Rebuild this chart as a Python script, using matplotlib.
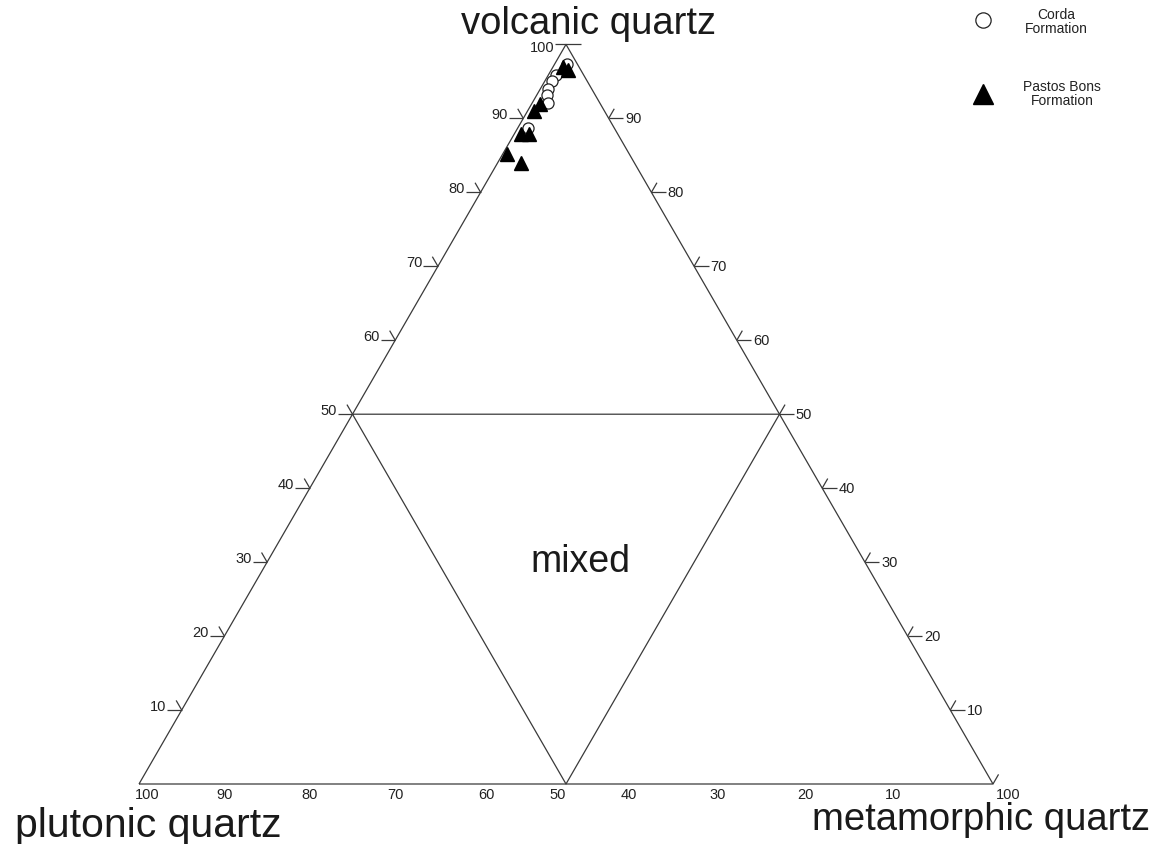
import numpy as np
import matplotlib
matplotlib.use("Agg")
import matplotlib.pyplot as plt

plt.rcParams["font.family"] = ["Liberation Sans", "DejaVu Sans"]

# sample compositions (%): plutonic, volcanic, metamorphic
corda_plutonic = [1.2, 3.2, 4.1, 5.1, 5.6, 6.1, 10.1]
corda_volcanic = [97.3, 95.9, 95.0, 94.0, 93.2, 92.1, 88.7]
corda_metamorphic = [1.5, 0.9, 0.9, 0.9, 1.2, 1.8, 1.2]

pastos_plutonic = [14.3, 13.3, 11.3, 10.4, 8.2, 7.0, 1.9, 1.5]
pastos_volcanic = [85.2, 84.0, 87.9, 87.9, 91.0, 92.0, 97.0, 96.5]
pastos_metamorphic = [0.5, 2.7, 0.8, 1.7, 0.8, 1.0, 1.1, 2.0]

side_ticks = [10, 20, 30, 40, 50, 60, 70, 80, 90]
bottom_tick_labels = ["100", "90", "80", "70", "60", "50", "40", "30", "20", "10", "100"]

H = np.sqrt(3) / 2
line_kw = dict(color="#3a3a3a", linewidth=0.9, solid_capstyle="butt")


def to_xy(plut, volc, meta):
    plut, volc, meta = map(np.asarray, (plut, volc, meta))
    total = plut + volc + meta
    v = volc / total
    m = meta / total
    return m + v / 2, v * H


fig = plt.figure(figsize=(11.58, 8.45), dpi=100)
ax = fig.add_axes([0, 0, 1, 1])
ax.set_xlim(-139 / 854, (1158 - 139) / 854)
ax.set_ylim(-60 / 854, 785 / 854)
ax.axis("off")

# outer triangle
ax.plot([0, 1, 0.5, 0], [0, 0, H, 0], **line_kw)

# inner "mixed" triangle
ax.plot([0.25, 0.75, 0.5, 0.25], [H / 2, H / 2, 0, H / 2], **line_kw)

# ticks on left and right edges
tick_len = 0.013
hor_len = 0.017
for t in side_ticks:
    f = t / 100
    # left edge
    lx, ly = f / 2, f * H
    ax.plot([lx - hor_len, lx], [ly, ly], **line_kw)
    ax.plot([lx, lx - 0.5 * tick_len], [ly, ly + H * tick_len], **line_kw)
    ax.text(lx - hor_len - 0.001, ly + 0.005, str(t), ha="right", va="center",
            fontsize=10.5, color="#222222")
    # right edge
    rx, ry = 1 - f / 2, f * H
    ax.plot([rx, rx + hor_len], [ry, ry], **line_kw)
    ax.plot([rx, rx + 0.5 * tick_len], [ry, ry + H * tick_len], **line_kw)
    ax.text(rx + hor_len + 0.002, ry, str(t), ha="left", va="center",
            fontsize=10.5, color="#222222")

# apex and corner ticks
ax.plot([0.5 - 0.013, 0.5 + 0.018], [H, H], **line_kw)
ax.text(0.5 - 0.014, H - 0.003, "100", ha="right", va="center",
        fontsize=10.5, color="#222222")
ax.plot([1, 1 + 0.5 * tick_len], [0, H * tick_len], **line_kw)

# bottom labels
bottom_shift = [0.01, 0.0, 0.0, 0.0, 0.007, -0.01, -0.027, -0.022, -0.02, -0.017, 0.018]
for i, lab in enumerate(bottom_tick_labels):
    ax.text(i / 10 + bottom_shift[i], -0.004, lab, ha="center", va="top",
            fontsize=10.5, color="#222222")

# apex names
ax.text(0.5258, 0.8794, "volcanic quartz", ha="center", va="baseline",
        fontsize=27.5, color="#1a1a1a")
ax.text(0.0105, -0.0605, "plutonic quartz", ha="center", va="baseline",
        fontsize=29.5, color="#1a1a1a")
ax.text(0.986, -0.0527, "metamorphic quartz", ha="center", va="baseline",
        fontsize=27.5, color="#1a1a1a")
ax.text(0.5164, 0.2494, "mixed", ha="center", va="baseline",
        fontsize=27, color="#1a1a1a")

# data
cx, cy = to_xy(corda_plutonic, corda_volcanic, corda_metamorphic)
px, py = to_xy(pastos_plutonic, pastos_volcanic, pastos_metamorphic)
ax.plot(cx, cy, "o", ms=8, mfc="white", mec="#222222", mew=0.9, zorder=3)
ax.plot(px, py, "^", ms=10, mfc="black", mec="black", zorder=4)

# legend
ax.plot([0.988], [0.8946], "o", ms=11, mfc="white", mec="#222222", mew=0.9,
        clip_on=False)
ax.plot([0.988], [0.808], "^", ms=15, mfc="black", mec="black", clip_on=False)
ax.text(1.074, 0.893, "Corda\nFormation", ha="center", va="center",
        fontsize=10, color="#222222", linespacing=1.0)
ax.text(1.081, 0.809, "Pastos Bons\nFormation", ha="center", va="center",
        fontsize=10, color="#222222", linespacing=1.0)

fig.savefig("out.png", dpi=100)
